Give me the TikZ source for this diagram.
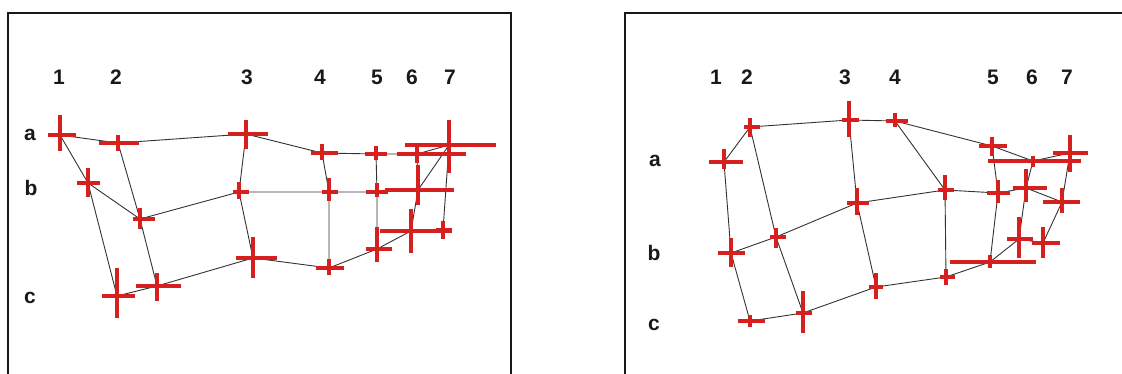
\documentclass[tikz,border=0pt]{standalone}
\usepackage{fontspec}
\setmainfont{Liberation Sans}
\begin{document}
\begin{tikzpicture}[x=1pt,y=-1pt,
  edge/.style={draw=black!80,line width=0.9pt},
  bar/.style={draw={rgb,255:red,214;green,32;blue,32},line width=4pt,line cap=butt},
  frame/.style={draw=black!90,line width=2.2pt},
  lab/.style={inner sep=0pt,font=\fontsize{21}{24}\selectfont\bfseries,text=black!90}]
\useasboundingbox (0,0) rectangle (1122,374);
\clip (0,0) rectangle (1122,374);
\fill[white] (0,0) rectangle (1122,374);
% frames
\draw[frame] (8,390) -- (8,13) -- (511,13) -- (511,390);
\draw[frame] (625,390) -- (625,13) -- (1140,13);
% labels
\foreach \n/\t/\x/\y in {l1/1/59/77,l2/2/116/77,l3/3/247/77,l4/4/320/77,l5/5/377/77,l6/6/412/77,l7/7/450/77,
  la/a/30/135,lb/b/31/188,lc/c/30/298,
  r1/1/716/77,r2/2/747/77,r3/3/845/77,r4/4/895/77,r5/5/993/77,r6/6/1032/77,r7/7/1067/77,
  ra/a/655/161,rb/b/654/253,rc/c/654/325}
  \node[lab] (\n) at (\x,\y) {\t};
% point data: name/cx/cy/left/right/top/bottom
\def\pts{L1a/60/135/12/16/20/16,L2a/118/143/19/21/8/8,L3a/246/134/18/22/14/15,L4a/322/153/11/16/9/7,
 L5a/376/154/11/11/8/6,L6a/417/154/20/49/9/9,L7a/449/145/44/47/25/28,
 L1b/88/183/11/12/15/14,L2b/140/219/7/15/11/10,L3b/239/192/6/10/10/7,L4b/329/192/7/9/14/9,
 L5b/377/192/11/11/9/5,L6b/418/190/33/36/25/15,
 L1c/117/296/15/18/28/22,L2c/157/286/21/24/13/15,L3c/253/258/17/24/21/20,L4c/329/268/13/15/9/7,
 L5c/377/249/11/15/22/13,L6c/411/231/31/41/22/22,L7c/443/230/7/9/9/9,
 R1a/724/162/15/19/13/7,R2a/750/127/6/10/9/10,R3a/849/120/7/10/19/17,R4a/895/121/9/13/8/6,
 R5a/992/146/13/15/9/10,R6a/1033/161/45/48/5/6,R7a/1070/153/17/18/18/19,
 R1b/731/253/13/14/15/14,R2b/776/237/6/10/9/11,R3b/857/203/10/12/15/12,R4b/945/190/7/9/15/10,
 R5b/998/193/11/12/13/10,R6b/1026/188/13/21/19/14,R7b/1062/202/19/18/14/11,
 R1c/750/321/12/15/6/6,R2c/803/313/7/9/22/20,R3c/876/287/7/7/14/12,R4c/946/277/6/9/8/8,
 R5c/990/262/40/46/7/6,R6c/1019/239/12/14/22/19,R7c/1043/243/11/17/16/15}
\foreach \n/\x/\y/\l/\r/\t/\b in \pts
  \coordinate (\n) at (\x,\y);
% connectors, left panel
\draw[edge] (L1a)--(L2a)--(L3a)--(L4a)--(L5a)--(L6a)--(L7a);
\draw[edge] (L1b)--(L2b)--(L3b)--(L4b)--(L5b)--(L6b)--(L7a);
\draw[edge] (L1c)--(L2c)--(L3c)--(L4c)--(L5c)--(L6c)--(L7c);
\draw[edge] (L1a)--(L1b)--(L1c);
\draw[edge] (L2a)--(L2b)--(L2c);
\draw[edge] (L3a)--(L3b)--(L3c);
\draw[edge] (L4a)--(L4b)--(L4c);
\draw[edge] (L5a)--(L5b)--(L5c);
\draw[edge] (L6a)--(L6b)--(L6c);
\draw[edge] (L7a)--(L7c);
% connectors, right panel
\draw[edge] (R1a)--(R2a)--(R3a)--(R4a)--(R5a)--(R6a)--(R7a);
\draw[edge] (R1b)--(R2b)--(R3b)--(R4b)--(R5b)--(R6b)--(R7b);
\draw[edge] (R1c)--(R2c)--(R3c)--(R4c)--(R5c)--(R6c)--(R7c);
\draw[edge] (R1a)--(R1b)--(R1c);
\draw[edge] (R2a)--(R2b)--(R2c);
\draw[edge] (R3a)--(R3b)--(R3c);
\draw[edge] (R4a)--(R4b)--(R4c);
\draw[edge] (R5a)--(R5b)--(R5c);
\draw[edge] (R6a)--(R6b)--(R6c);
\draw[edge] (R7a)--(R7b)--(R7c);
% error crosses
\foreach \n/\x/\y/\l/\r/\t/\b in \pts {
  \draw[bar] ([xshift=-\l pt]\n) -- ([xshift=\r pt]\n);
  \draw[bar] ([yshift=\t pt]\n) -- ([yshift=-\b pt]\n);
}
\end{tikzpicture}
\end{document}
